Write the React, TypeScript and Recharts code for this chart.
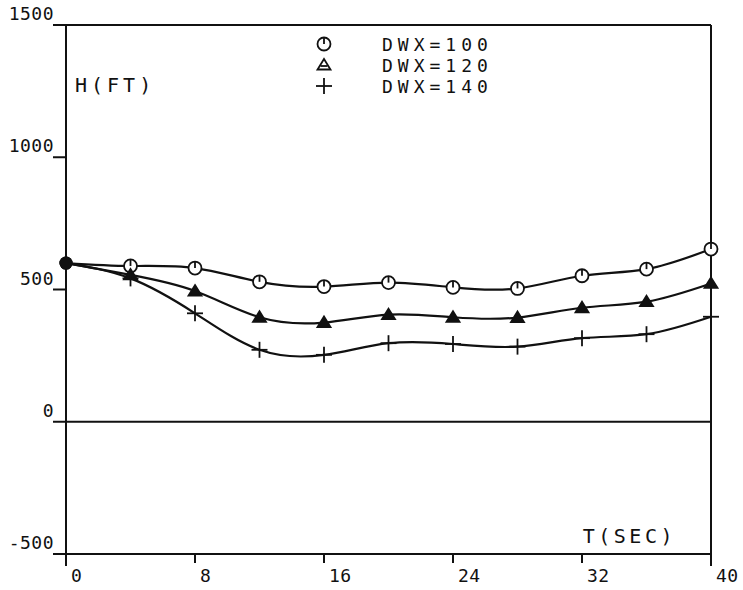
import { LineChart, Line, XAxis, YAxis, ReferenceLine, Legend } from "recharts";

const times = [0, 4, 8, 12, 16, 20, 24, 28, 32, 36, 40];
const dwx100 = [600, 589, 581, 529, 511, 526, 508, 504, 552, 577, 653];
const dwx120 = [600, 555, 494, 395, 375, 405, 395, 394, 431, 454, 523];
const dwx140 = [600, 542, 410, 272, 253, 297, 294, 284, 316, 331, 397];
const xTicks = [0, 8, 16, 24, 32, 40];
const yTicks = [-500, 0, 500, 1000, 1500];
const seriesLabels = ["DWX=100", "DWX=120", "DWX=140"];

const data = times.map((t, i) => ({ t, a: dwx100[i], b: dwx120[i], c: dwx140[i] }));

const INK = "#111";
const FONT = "'DejaVu Sans Mono', monospace";

function Circle({ x, y }: { x: number; y: number }) {
	return (
		<g>
			<circle cx={x} cy={y} r={6.5} fill="#fff" stroke={INK} strokeWidth={1.8} />
			<line x1={x} y1={y - 6.5} x2={x} y2={y} stroke={INK} strokeWidth={1.8} />
		</g>
	);
}

function Triangle({ x, y, filled }: { x: number; y: number; filled: boolean }) {
	return (
		<g>
			<path
				d={`M${x},${y - 6} L${x + 6.5},${y + 4.5} L${x - 6.5},${y + 4.5} Z`}
				fill={filled ? INK : "#fff"}
				stroke={INK}
				strokeWidth={1.8}
			/>
			{!filled && <line x1={x - 3.5} y1={y + 1} x2={x + 3.5} y2={y + 1} stroke={INK} strokeWidth={1.8} />}
		</g>
	);
}

function Plus({ x, y }: { x: number; y: number }) {
	return (
		<g>
			<line x1={x - 8} y1={y} x2={x + 8} y2={y} stroke={INK} strokeWidth={1.8} />
			<line x1={x} y1={y - 8} x2={x} y2={y + 8} stroke={INK} strokeWidth={1.8} />
		</g>
	);
}

function makeDot(kind: number) {
	return (props: any) => {
		const { cx, cy, index } = props;
		if (cx == null || cy == null) return <g key={`d${kind}-${index}`} />;
		if (index === 0) {
			return <circle key={`d${kind}-${index}`} cx={cx} cy={cy} r={6.5} fill={INK} />;
		}
		return (
			<g key={`d${kind}-${index}`}>
				{kind === 0 && <Circle x={cx} y={cy} />}
				{kind === 1 && <Triangle x={cx} y={cy} filled />}
				{kind === 2 && <Plus x={cx} y={cy} />}
			</g>
		);
	};
}

function XTick(props: any) {
	const { x, y, payload } = props;
	const edge = payload.value === 0 || payload.value === 40;
	return (
		<g>
			<line x1={x} y1={y} x2={x} y2={y + (edge ? 12 : 9)} stroke={INK} strokeWidth={2} />
			<text x={x + 5} y={y + 28} fontFamily={FONT} fontSize={18} fill={INK} letterSpacing={0.5}>
				{payload.value}
			</text>
		</g>
	);
}

function YTick(props: any) {
	const { x, y, payload } = props;
	return (
		<g>
			<line x1={x - 13} y1={y} x2={x} y2={y} stroke={INK} strokeWidth={2} />
			<text x={x - 12} y={y - 5} textAnchor="end" fontFamily={FONT} fontSize={18} fill={INK} letterSpacing={0.5}>
				{payload.value}
			</text>
		</g>
	);
}

function LegendBox() {
	return (
		<svg width={200} height={70}>
			{seriesLabels.map((label, i) => {
				const cy = 11 + i * 21;
				return (
					<g key={label}>
						{i === 0 && <Circle x={21} y={cy} />}
						{i === 1 && <Triangle x={21} y={cy} filled={false} />}
						{i === 2 && <Plus x={21} y={cy} />}
						<text x={79} y={cy + 6.5} fontFamily={FONT} fontSize={18} fill={INK} letterSpacing={5}>
							{label}
						</text>
					</g>
				);
			})}
		</svg>
	);
}

export default function App() {
	return (
		<div style={{ position: "absolute", left: 0, top: 0, width: 743, height: 590, background: "#fff" }}>
			<LineChart width={743} height={590} data={data} margin={{ top: 25, right: 32, left: 6, bottom: 6 }}>
				<XAxis
					dataKey="t"
					type="number"
					domain={[0, 40]}
					ticks={xTicks}
					height={30}
					tickSize={0}
					tickMargin={0}
					tickLine={false}
					tick={<XTick />}
					axisLine={{ stroke: INK, strokeWidth: 2 }}
					interval={0}
				/>
				<YAxis
					type="number"
					domain={[-500, 1500]}
					ticks={yTicks}
					width={60}
					tickSize={0}
					tickMargin={0}
					tickLine={false}
					tick={<YTick />}
					axisLine={{ stroke: INK, strokeWidth: 2 }}
					interval={0}
				/>
				<ReferenceLine y={1500} stroke={INK} strokeWidth={2} />
				<ReferenceLine y={0} stroke={INK} strokeWidth={2} />
				<ReferenceLine x={40} stroke={INK} strokeWidth={2} />
				<ReferenceLine
					x={0}
					stroke="none"
					label={{ value: "H(FT)", position: "insideTopLeft", dx: 4, dy: 48, fontFamily: FONT, fontSize: 20, fill: INK, letterSpacing: 4 } as any}
				/>
				<ReferenceLine
					y={-500}
					stroke="none"
					label={{ value: "T(SEC)", position: "insideBottomRight", dx: -30, dy: -6, fontFamily: FONT, fontSize: 20, fill: INK, letterSpacing: 3.5 } as any}
				/>
				<Legend
					content={<LegendBox />}
					verticalAlign="middle"
					align="center"
					wrapperStyle={{ position: "absolute", top: 33, left: 303, width: 200, height: 70 }}
				/>
				<Line dataKey="a" type="natural" stroke={INK} strokeWidth={2.2} dot={makeDot(0)} activeDot={false} isAnimationActive={false} />
				<Line dataKey="b" type="natural" stroke={INK} strokeWidth={2.2} dot={makeDot(1)} activeDot={false} isAnimationActive={false} />
				<Line dataKey="c" type="natural" stroke={INK} strokeWidth={2.2} dot={makeDot(2)} activeDot={false} isAnimationActive={false} />
			</LineChart>
		</div>
	);
}
